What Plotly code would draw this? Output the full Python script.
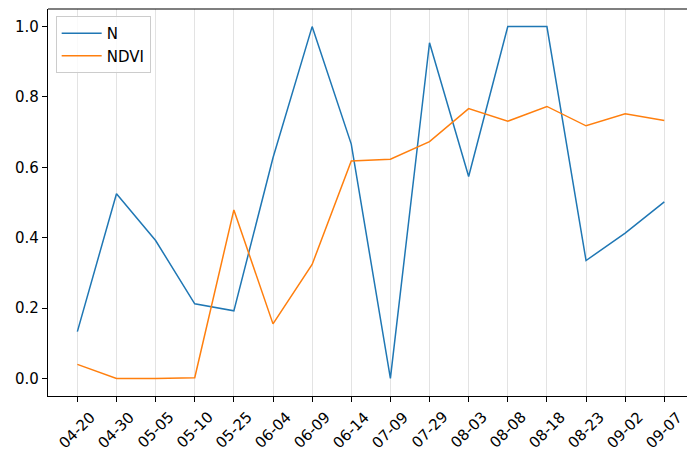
import plotly.graph_objects as go

dates = ["04-20", "04-30", "05-05", "05-10", "05-25", "06-04", "06-09", "06-14",
         "07-09", "07-29", "08-03", "08-08", "08-18", "08-23", "09-02", "09-07"]
n_values = [0.133, 0.525, 0.392, 0.212, 0.192, 0.627, 1.0, 0.666,
            0.0, 0.954, 0.574, 1.0, 1.0, 0.335, 0.413, 0.502]
ndvi_values = [0.040, 0.0, 0.0, 0.002, 0.479, 0.155, 0.324, 0.618,
               0.623, 0.673, 0.767, 0.731, 0.773, 0.718, 0.752, 0.733]

idx = list(range(len(dates)))
font = dict(family="DejaVu Sans", size=15, color="black")

fig = go.Figure()
fig.add_trace(go.Scatter(x=idx, y=n_values, mode="lines", name="N",
                         line=dict(color="#1f77b4", width=1.5)))
fig.add_trace(go.Scatter(x=idx, y=ndvi_values, mode="lines", name="NDVI",
                         line=dict(color="#ff7f0e", width=1.5)))

fig.update_layout(
    width=687, height=451,
    margin=dict(l=48, r=0, t=9, b=55),
    plot_bgcolor="white", paper_bgcolor="white",
    font=font,
    showlegend=True,
    legend=dict(x=0.012, y=0.982, xanchor="left", yanchor="top",
                bgcolor="rgba(255,255,255,0.8)", bordercolor="#cccccc",
                borderwidth=1, font=font, itemwidth=40),
    xaxis=dict(
        range=[-0.75, 15.58], tickmode="array", tickvals=idx, ticktext=dates,
        showticklabels=False, showgrid=True, gridcolor="#e3e3e3", gridwidth=1,
        showline=True, linecolor="black", linewidth=1.2,
        ticks="outside", ticklen=5, tickwidth=1.2, tickcolor="black",
        zeroline=False,
    ),
    yaxis=dict(
        range=[-0.05, 1.05], tickvals=[0, 0.2, 0.4, 0.6, 0.8, 1.0],
        tickformat=".1f", showgrid=False,
        showline=True, linecolor="black", linewidth=1.2,
        ticks="outside", ticklen=5, tickwidth=1.2, tickcolor="black",
        zeroline=False, tickfont=font,
    ),
)

# date labels centred under each tick, rotated 45 degrees
for i, d in zip(idx, dates):
    fig.add_annotation(x=i, y=0, xref="x", yref="paper", text=d,
                       textangle=-45, showarrow=False, xanchor="center",
                       yanchor="top", yshift=-9, font=font)

# top spine
fig.add_shape(type="line", xref="paper", yref="paper", x0=0, x1=1, y0=1, y1=1,
              line=dict(color="black", width=1.2))

fig.write_html("out.html")
